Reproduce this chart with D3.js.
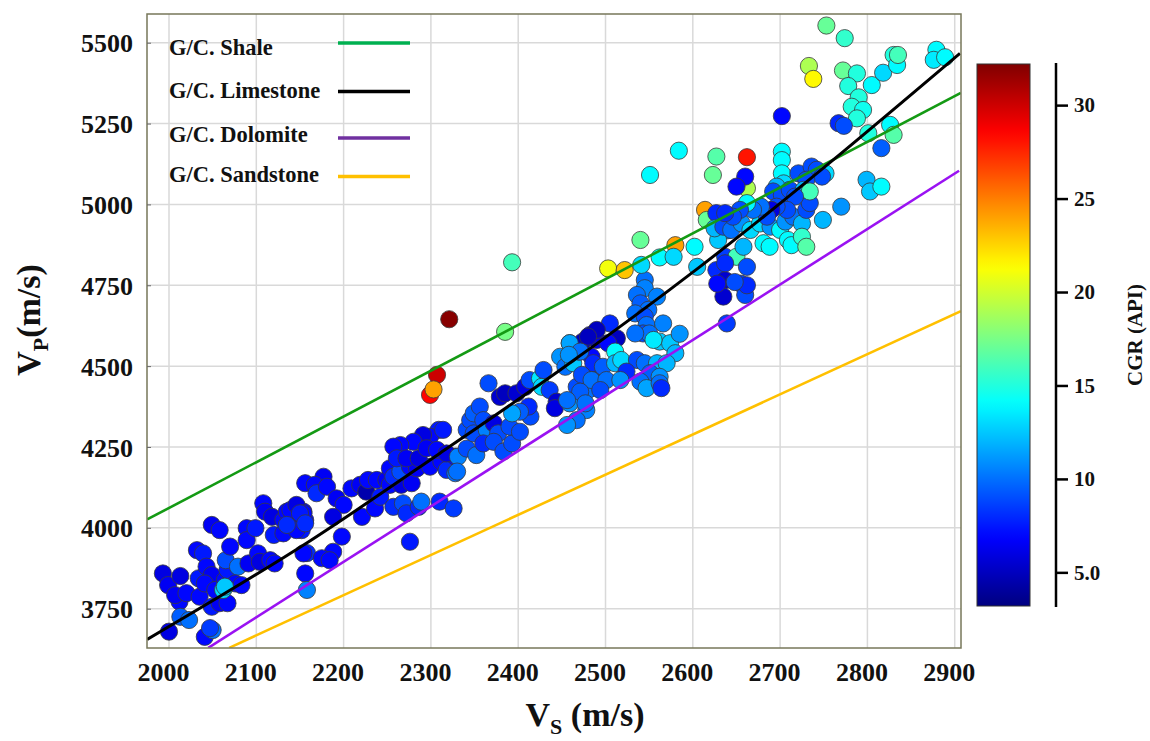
<!DOCTYPE html>
<html>
<head>
<meta charset="utf-8">
<script src="https://cdn.jsdelivr.net/npm/d3@7/dist/d3.min.js"></script>
<style>
  html, body { margin: 0; padding: 0; background: #ffffff; }
  svg { display: block; }
  text { font-family: "Liberation Serif", "Times New Roman", serif; font-weight: bold; fill: #111; }
</style>
</head>
<body>
<svg id="chart" width="1150" height="741"></svg>
<script>
// ---------------- DATA ----------------
const xTicks = [2000, 2100, 2200, 2300, 2400, 2500, 2600, 2700, 2800, 2900];
const yTicks = [3750, 4000, 4250, 4500, 4750, 5000, 5250, 5500];
const cgrTicks = [5, 10, 15, 20, 25, 30];
const cgrTickLabels = ["5.0", "10", "15", "20", "25", "30"];

const legendNames = ["G/C. Shale", "G/C. Limestone", "G/C. Dolomite", "G/C. Sandstone"];

// Trend lines: [Vs, Vp]
const shaleLine = [[1975, 4026], [2907, 5345]];
const limestoneLine = [[1975, 3655], [2160, 3957], [2310, 4230], [2448, 4488], [2608, 4807], [2906, 5467]];
const dolomiteLine = [[2045, 3629], [2905, 5104]];
const sandstoneLine = [[2069, 3629], [2907, 4670]];

// Points: [Vs, Vp, CGR]
const pointsLowLeft = [
  [2000,3679,6],[2041,3663,7],[2050,3684,10],[2047,3690,8.5],
  [1993,3859,6],[1999,3823,6.5],[2013,3851,6],[2012,3772,7],[2007,3792,6.5],[2013,3725,9.5],[2023,3715,10],
  [2020,3798,7],[2035,3787,7],[2032,3931,7],[2039,3921,7.5],[2049,4009,6.5],[2058,3993,7],
  [2034,3844,7.5],[2043,3880,7],[2049,3854,6.5],[2041,3828,7],[2049,3756,7.5],[2058,3767,6.5],[2067,3767,7],
  [2053,3808,7],[2062,3808,13],[2064,3839,7],[2067,3870,7.5],[2065,3900,9],[2070,3942,7],[2079,3880,10],
  [2076,3828,7],[2083,3823,7],[2064,3818,12.5],[2091,3890,6.5],[2089,3999,7],[2089,3962,7],[2102,3921,7],
  [2099,3999,7.5],[2104,3895,6],[2116,3900,7],[2108,4076,7],[2110,4050,6.5],[2118,4034,6],[2121,3890,7],
  [2131,4024,7],[2135,4050,7],[2120,3978,7.5],[2131,3983,7],[2142,4014,6],[2154,4050,7],[2156,4024,7],
  [2152,3993,7.5],[2158,3922,8],[2156,3859,7],[2158,3808,10.5],
  [2139,4055,7],[2146,4071,6],[2154,4045,7],[2146,3993,7],[2135,4009,8],[2156,4138,7]
];
const pointsLowMid = [
  [2177,4158,6.5],[2167,4133,7],[2169,4107,8],[2181,4127,7],[2192,4091,6.5],[2200,4071,7],[2188,4034,6],
  [2198,3973,7],[2188,3926,7],[2154,3921,7],[2175,3906,7],[2184,3900,7],[2150,4045,7.5],[2156,4014,8],
  [2209,4122,7],[2219,4133,6.5],[2226,4112,4.5],[2228,4148,7],[2238,4148,7],[2221,4034,7],[2236,4060,7],
  [2242,4096,7.5],[2257,4065,8],[2249,4148,6.5],[2253,4133,7],[2266,4133,6],[2278,4138,6.5],[2253,4184,7],
  [2257,4158,8],[2265,4174,9],[2276,4189,7],[2284,4184,6.5],[2299,4189,7],[2312,4205,7],[2318,4179,8],
  [2328,4169,10],[2328,4220,7],
  [2309,4303,7.5],[2299,4282,7],[2291,4287,6],[2280,4266,7],[2265,4256,7],[2257,4251,7],[2261,4215,7.5],
  [2272,4215,6.5],[2286,4215,6],[2295,4246,6.5],[2307,4241,7],
  [2268,4076,9],[2272,4045,8],[2286,4065,8],[2289,4081,10],[2310,4081,8],[2326,4060,8.5],[2276,3957,7.5]
];
const pointsOutliers = [
  [2321,4645,32],[2307,4473,30],[2299,4411,28.5],[2303,4428,24],[2385,4606,17.5],[2393,4821,16]
];
const pointsMid = [
  [2314,4303,7.5],[2318,4230,6],[2331,4220,10.5],[2330,4174,10],[2341,4245,9],[2352,4225,10],
  [2341,4303,9],[2345,4333,9],[2349,4354,9.5],[2356,4375,9],[2366,4447,9],[2349,4292,9],[2360,4333,9],
  [2364,4303,10.5],[2372,4323,6],[2377,4292,9],[2360,4261,8],[2372,4266,9],[2383,4236,9],[2393,4261,9],
  [2379,4405,5.5],[2385,4416,5],[2398,4416,5.5],[2390,4313,9],[2402,4297,9],[2414,4344,9],[2412,4375,8],
  [2402,4359,9.5],[2393,4354,11.5],[2408,4436,6],[2413,4457,9],[2425,4462,13.5],[2427,4436,13],[2429,4488,9],
  [2436,4426,8.5],[2444,4390,5.5],[2442,4370,6],[2448,4529,11],[2454,4498,10],[2459,4571,12.5],[2463,4509,12.5],
  [2469,4545,8],[2474,4576,5],[2482,4596,5.5],[2490,4581,6],[2484,4529,7],[2475,4467,7.5],[2488,4478,9],
  [2490,4447,9],[2480,4426,10],[2467,4436,9],[2459,4385,11],[2478,4364,10.5],[2467,4333,10],[2456,4318,11]
];
const pointsDense = [
  [2545,4766,10],[2545,4741,10.5],[2536,4720,10],[2559,4715,10.5],[2540,4694,9.5],[2549,4674,10],
  [2534,4663,10],[2545,4653,9],[2547,4627,10],[2566,4632,10.5],[2543,4601,9],[2550,4601,10],[2562,4576,12.5],
  [2574,4571,12.5],[2555,4581,13.5],[2534,4601,10],[2580,4540,12],[2585,4600,11],
  [2505,4632,8],[2490,4612,5],[2480,4591,5],[2513,4586,5],[2503,4571,7],[2511,4545,14],
  [2459,4571,11.5],[2471,4545,10],[2458,4535,11],[2486,4509,8],[2497,4498,9.5],[2511,4509,12],[2518,4519,13],
  [2536,4519,9],[2545,4509,10],[2559,4509,12],[2570,4509,12],
  [2524,4483,8],[2473,4473,9],[2484,4457,10],[2501,4457,10],[2517,4457,11],[2551,4478,9.5],[2540,4452,10],
  [2562,4467,11],[2547,4432,11.5],[2562,4447,10],[2564,4432,8],[2494,4426,9],[2471,4421,9.5],[2456,4395,10],
  [2477,4385,10]
];
const pointsUpperMid = [
  [2551,5091,14],[2584,5166,14],[2540,4890,17],[2580,4874,24],[2602,4869,14],[2614,4983,24],[2616,4952,17],
  [2503,4802,21],[2522,4797,23],[2541,4813,13],[2562,4836,14],[2578,4838,13],[2605,4807,12.5],
  [2627,4797,8],[2637,4838,8.5],[2637,4766,5.5],[2635,4715,5.5],[2639,4632,8.5],[2640,4920,11],
  [2655,4755,8.5],[2628,4755,7],[2660,4720,9],[2662,4750,8],[2648,4760,9],
  [2629,4890,12.5],[2650,4838,16],[2658,4869,12],[2637,4818,8],[2662,4807,9]
];
const pointsUpper = [
  [2627,4973,8],[2625,4926,12],[2635,4931,9],[2644,4921,10],[2656,4941,11],[2666,4921,13],[2677,4941,13],
  [2689,4931,11],[2700,4921,14],[2706,4947,11],[2715,4962,10],[2725,4941,12],[2730,4983,9],[2734,5004,9],
  [2749,4952,12],[2770,4993,11],
  [2681,4880,14],[2688,4869,14],[2709,4890,14],[2713,4874,14],[2725,4900,15.5],[2730,4869,16.5],
  [2662,5050,19],[2627,5148,16.5],[2623,5091,17],[2662,5146,28],[2660,5086,7],[2650,5055,7],
  [2702,5163,14],[2702,5137,14],[2702,5096,14],[2704,5065,13],[2696,5055,12],[2692,5040,9],[2702,5029,9],
  [2711,5045,9],[2721,5096,9],[2736,5117,9],[2742,5107,9],[2752,5096,13],[2748,5086,9],[2730,5076,9],
  [2727,5045,12],[2734,5040,16],[2717,5024,9],[2708,4983,9],[2696,4993,9],[2690,4983,6],[2685,4962,9],
  [2678,4993,10],[2669,4983,10],[2662,5004,14],[2654,4983,9],[2646,4962,9],[2637,4973,8],
  [2702,5273,7]
];
const pointsTop = [
  [2753,5553,17],[2774,5514,15.5],[2733,5428,19],[2738,5388,21.5],[2772,5414,17],[2788,5405,15],
  [2778,5366,15],[2790,5331,15],[2805,5369,14],[2818,5407,13],[2830,5462,15],[2834,5431,14],[2835,5462,16],
  [2879,5478,14],[2876,5447,13.5],[2889,5455,14],
  [2782,5302,15],[2795,5292,14.5],[2788,5266,15],[2767,5251,8],[2773,5243,9],[2801,5220,15],[2826,5246,14],
  [2830,5215,16.5],[2816,5174,9.5],[2799,5076,12],[2803,5040,12.5],[2816,5055,14]
];

// ---------------- CHART ----------------
const svg = d3.select("#chart");
const W = 1150, H = 741;
svg.append("rect").attr("width", W).attr("height", H).attr("fill", "#fff");

const plot = { left: 147, top: 14, right: 961, bottom: 648 };
const x = d3.scaleLinear().domain([1974.8, 2907.2]).range([plot.left, plot.right]);
const y = d3.scaleLinear().domain([3628.5, 5588.7]).range([plot.bottom, plot.top]);

const cgrMin = 3.2, cgrMax = 32.2;
function jet(t) {
  t = Math.max(0, Math.min(1, t));
  const c = v => Math.round(255 * Math.max(0, Math.min(1, v)));
  const r = c(1.5 - Math.abs(4 * t - 3));
  const g = c(1.5 - Math.abs(4 * t - 2));
  const b = c(1.5 - Math.abs(4 * t - 1));
  return `rgb(${r},${g},${b})`;
}
const color = v => jet((v - cgrMin) / (cgrMax - cgrMin));

const defs = svg.append("defs");
defs.append("clipPath").attr("id", "clip")
  .append("rect").attr("x", plot.left).attr("y", plot.top)
  .attr("width", plot.right - plot.left).attr("height", plot.bottom - plot.top);

// grid
const grid = svg.append("g");
grid.selectAll("line.vx").data(xTicks).enter().append("line")
  .attr("x1", d => x(d)).attr("x2", d => x(d))
  .attr("y1", plot.top).attr("y2", plot.bottom)
  .attr("stroke", "#d9d9d9").attr("stroke-width", 1.5);
grid.selectAll("line.hy").data(yTicks).enter().append("line")
  .attr("x1", plot.left).attr("x2", plot.right)
  .attr("y1", d => y(d)).attr("y2", d => y(d))
  .attr("stroke", "#d9d9d9").attr("stroke-width", 1.5);

// points
const allGroups = [pointsLowLeft, pointsLowMid, pointsOutliers, pointsMid, pointsDense, pointsUpperMid, pointsUpper, pointsTop];
const pts = svg.append("g").attr("clip-path", "url(#clip)");
allGroups.forEach(group => {
  pts.append("g").selectAll("circle").data(group).enter().append("circle")
    .attr("cx", d => x(d[0])).attr("cy", d => y(d[1])).attr("r", 8.6)
    .attr("fill", d => color(d[2]))
    .attr("stroke", "#3a3a3a").attr("stroke-width", 0.8);
});

// trend lines (drawn over the points)
const lineGen = d3.line().x(d => x(d[0])).y(d => y(d[1]));
const curveGen = d3.line().x(d => x(d[0])).y(d => y(d[1])).curve(d3.curveMonotoneX);
const lines = svg.append("g").attr("clip-path", "url(#clip)");
lines.append("path").datum(sandstoneLine).attr("d", lineGen)
  .attr("fill", "none").attr("stroke", "#ffc000").attr("stroke-width", 2.6);
lines.append("path").datum(dolomiteLine).attr("d", lineGen)
  .attr("fill", "none").attr("stroke", "#9a12f2").attr("stroke-width", 2.6);
lines.append("path").datum(shaleLine).attr("d", lineGen)
  .attr("fill", "none").attr("stroke", "#149a14").attr("stroke-width", 2.6);
lines.append("path").datum(limestoneLine).attr("d", curveGen)
  .attr("fill", "none").attr("stroke", "#000").attr("stroke-width", 3);

// frame
svg.append("rect").attr("x", plot.left).attr("y", plot.top)
  .attr("width", plot.right - plot.left).attr("height", plot.bottom - plot.top)
  .attr("fill", "none").attr("stroke", "#77775a").attr("stroke-width", 1.5);

// axes
const tickFont = sel => sel.style("font-size", "26px").style("font-family", '"Liberation Serif", serif')
  .style("font-weight", "bold").attr("fill", "#111");
const xAxis = d3.axisBottom(x).tickValues(xTicks).tickSize(0).tickPadding(0).tickFormat(d3.format("d"));
const gx = svg.append("g").attr("transform", `translate(0,${plot.bottom})`).call(xAxis);
gx.select(".domain").remove();
gx.selectAll("text").attr("y", 33).attr("dy", 0).attr("dx", -6).call(tickFont);

const yAxis = d3.axisLeft(y).tickValues(yTicks).tickSize(5).tickPadding(9).tickFormat(d3.format("d"));
const gy = svg.append("g").attr("transform", `translate(${plot.left},0)`).call(yAxis);
gy.select(".domain").remove();
gy.selectAll("line").attr("stroke", "#666").attr("x2", 4);
gy.selectAll("text").attr("x", -14).attr("dy", "0.35em").call(tickFont);

// axis titles
const yt = svg.append("text").attr("transform", "translate(40,320) rotate(-90)")
  .attr("text-anchor", "middle").style("font-size", "34px");
yt.append("tspan").text("V");
yt.append("tspan").text("P").style("font-size", "22px").attr("dy", 8);
yt.append("tspan").text("(m/s)").attr("dy", -8);

const xt = svg.append("text").attr("x", 585).attr("y", 726)
  .attr("text-anchor", "middle").style("font-size", "34px");
xt.append("tspan").text("V");
xt.append("tspan").text("S").style("font-size", "22px").attr("dy", 8);
xt.append("tspan").text(" (m/s)").attr("dy", -8);

// legend
const legendLineColors = ["#00b050", "#000000", "#7030a0", "#ffc000"];
const legendTextY = [55, 98, 142, 182];
const legendLineY = [43, 91.5, 138, 176.5];
const lg = svg.append("g");
legendNames.forEach((name, i) => {
  lg.append("text").attr("x", 169).attr("y", legendTextY[i]).text(name).style("font-size", "22.5px");
  lg.append("line").attr("x1", 338).attr("x2", 410).attr("y1", legendLineY[i]).attr("y2", legendLineY[i])
    .attr("stroke", legendLineColors[i]).attr("stroke-width", 3.5);
});

// colorbar
const cb = { x: 977, y: 64, w: 53, h: 542 };
const cy = d3.scaleLinear().domain([cgrMin, cgrMax]).range([cb.y + cb.h, cb.y]);
const grad = defs.append("linearGradient").attr("id", "jetgrad")
  .attr("x1", 0).attr("y1", 1).attr("x2", 0).attr("y2", 0);
d3.range(0, 1.0001, 0.02).forEach(t => {
  grad.append("stop").attr("offset", t).attr("stop-color", jet(t));
});
svg.append("rect").attr("x", cb.x).attr("y", cb.y).attr("width", cb.w).attr("height", cb.h)
  .attr("fill", "url(#jetgrad)").attr("stroke", "#333").attr("stroke-width", 1);

const cAxis = d3.axisRight(cy).tickValues(cgrTicks).tickSize(12).tickPadding(6)
  .tickFormat((d, i) => cgrTickLabels[i]);
const gc = svg.append("g").attr("transform", "translate(1056,0)").call(cAxis);
gc.select(".domain").attr("d", `M0,${cb.y - 1}V${cb.y + cb.h + 1}`).attr("stroke", "#000").attr("stroke-width", 2.5);
gc.selectAll(".tick line").attr("stroke", "#000").attr("stroke-width", 2.5);
gc.selectAll("text").style("font-size", "21px").style("font-family", '"Liberation Serif", serif')
  .style("font-weight", "bold").attr("fill", "#111");

svg.append("text").attr("transform", "translate(1142,335) rotate(-90)")
  .attr("text-anchor", "middle").style("font-size", "21px").text("CGR (API)");
</script>
</body>
</html>
